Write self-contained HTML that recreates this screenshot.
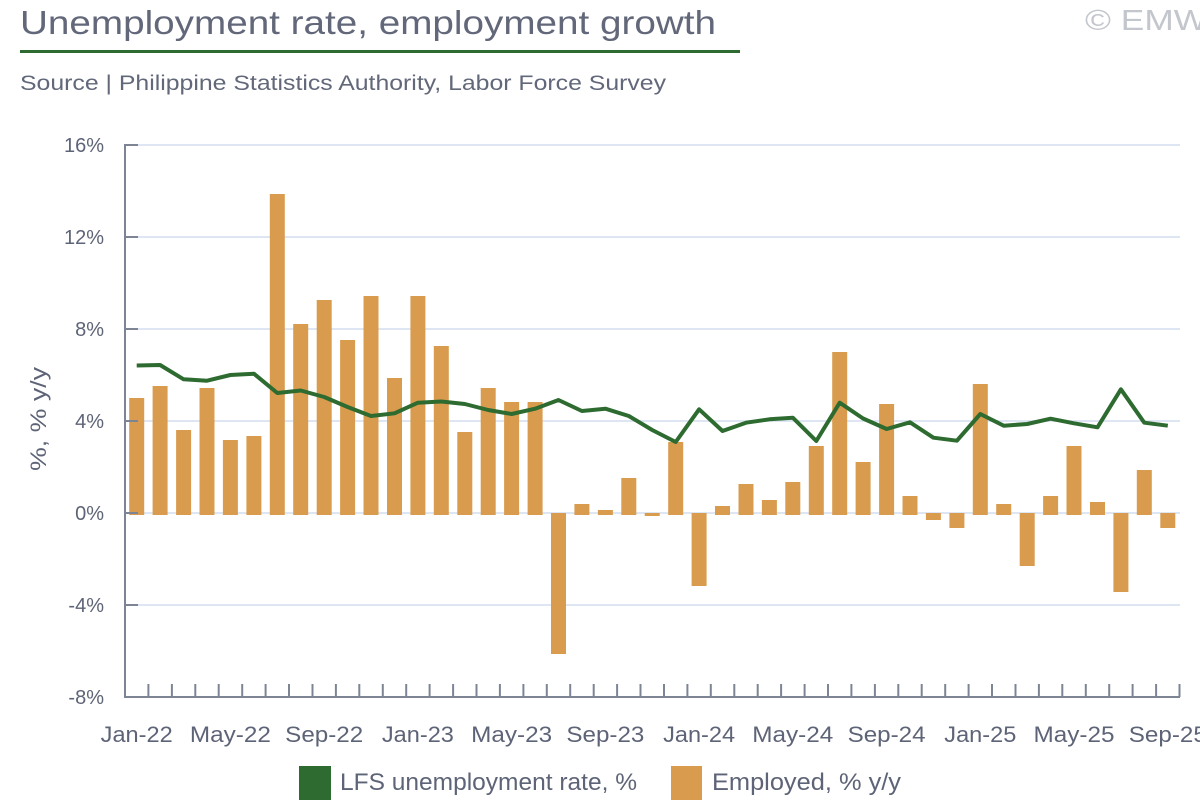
<!DOCTYPE html>
<html>
<head>
<meta charset="utf-8">
<style>
html,body{margin:0;padding:0;background:#fff;}
body{width:1200px;height:800px;overflow:hidden;}
svg{display:block;}
text{font-family:"Liberation Sans",sans-serif;}
</style>
</head>
<body>
<svg width="1200" height="800" viewBox="0 0 1200 800" xmlns="http://www.w3.org/2000/svg">
<text x="20" y="34" font-size="33" fill="#62687a" textLength="696" lengthAdjust="spacingAndGlyphs">Unemployment rate, employment growth</text>
<rect x="20" y="50" width="720" height="3" fill="#2e6b30"/>
<text x="20" y="90" font-size="21" fill="#62687a" textLength="646" lengthAdjust="spacingAndGlyphs">Source | Philippine Statistics Authority, Labor Force Survey</text>
<text x="1085" y="30" font-size="29" fill="#c3c6cc" textLength="122" lengthAdjust="spacingAndGlyphs">© EMW</text>
<g stroke="#dde6f2" stroke-width="2">
<line x1="138" y1="145" x2="1180" y2="145"/>
<line x1="138" y1="237" x2="1180" y2="237"/>
<line x1="138" y1="329" x2="1180" y2="329"/>
<line x1="138" y1="421" x2="1180" y2="421"/>
<line x1="138" y1="513" x2="1180" y2="513"/>
<line x1="138" y1="605" x2="1180" y2="605"/>
</g>
<g font-size="20" fill="#5e6477" text-anchor="end">
<text x="104" y="152">16%</text>
<text x="104" y="244">12%</text>
<text x="104" y="336">8%</text>
<text x="104" y="428">4%</text>
<text x="104" y="520">0%</text>
<text x="104" y="612">-4%</text>
<text x="104" y="704">-8%</text>
</g>
<text transform="translate(46,419) rotate(-90)" font-size="22" fill="#5e6477" text-anchor="middle" textLength="104" lengthAdjust="spacingAndGlyphs">%, % y/y</text>
<g fill="#d99c4f">
<rect x="129.2" y="398" width="15" height="117"/>
<rect x="152.6" y="386" width="15" height="129"/>
<rect x="176.1" y="430" width="15" height="85"/>
<rect x="199.5" y="388" width="15" height="127"/>
<rect x="222.9" y="440" width="15" height="75"/>
<rect x="246.4" y="436" width="15" height="79"/>
<rect x="269.8" y="194" width="15" height="321"/>
<rect x="293.2" y="324" width="15" height="191"/>
<rect x="316.7" y="300" width="15" height="215"/>
<rect x="340.1" y="340" width="15" height="175"/>
<rect x="363.5" y="296" width="15" height="219"/>
<rect x="387.0" y="378" width="15" height="137"/>
<rect x="410.4" y="296" width="15" height="219"/>
<rect x="433.8" y="346" width="15" height="169"/>
<rect x="457.3" y="432" width="15" height="83"/>
<rect x="480.7" y="388" width="15" height="127"/>
<rect x="504.1" y="402" width="15" height="113"/>
<rect x="527.6" y="402" width="15" height="113"/>
<rect x="551.0" y="513" width="15" height="141"/>
<rect x="574.4" y="504" width="15" height="11"/>
<rect x="597.9" y="510" width="15" height="5"/>
<rect x="621.3" y="478" width="15" height="37"/>
<rect x="644.7" y="513" width="15" height="3"/>
<rect x="668.2" y="442" width="15" height="73"/>
<rect x="691.6" y="513" width="15" height="73"/>
<rect x="715.0" y="506" width="15" height="9"/>
<rect x="738.5" y="484" width="15" height="31"/>
<rect x="761.9" y="500" width="15" height="15"/>
<rect x="785.3" y="482" width="15" height="33"/>
<rect x="808.8" y="446" width="15" height="69"/>
<rect x="832.2" y="352" width="15" height="163"/>
<rect x="855.6" y="462" width="15" height="53"/>
<rect x="879.1" y="404" width="15" height="111"/>
<rect x="902.5" y="496" width="15" height="19"/>
<rect x="925.9" y="513" width="15" height="7"/>
<rect x="949.4" y="513" width="15" height="15"/>
<rect x="972.8" y="384" width="15" height="131"/>
<rect x="996.2" y="504" width="15" height="11"/>
<rect x="1019.7" y="513" width="15" height="53"/>
<rect x="1043.1" y="496" width="15" height="19"/>
<rect x="1066.5" y="446" width="15" height="69"/>
<rect x="1090.0" y="502" width="15" height="13"/>
<rect x="1113.4" y="513" width="15" height="79"/>
<rect x="1136.8" y="470" width="15" height="45"/>
<rect x="1160.3" y="513" width="15" height="15"/>
</g>
<polyline fill="none" stroke="#2e6b30" stroke-width="4" stroke-linejoin="round" points="136.7,365.5 160.1,365 183.6,379.3 207.0,380.7 230.4,375 253.9,373.7 277.3,393 300.7,390.5 324.2,397 347.6,407 371.0,416 394.5,413.3 417.9,402.7 441.3,401.5 464.8,404 488.2,410 511.6,414 535.1,408.7 558.5,400 581.9,411 605.4,408.7 628.8,416 652.2,430 675.7,442 699.1,409.3 722.5,431 746.0,422.7 769.4,419.3 792.8,417.7 816.3,441 839.7,402.7 863.1,418.5 886.6,429 910.0,422.3 933.4,437.7 956.9,440.7 980.3,414 1003.7,425.7 1027.2,424 1050.6,418.7 1074.0,423.3 1097.5,427.3 1120.9,389.3 1144.3,422.7 1167.8,425.7"/>
<g stroke="#7d8595" stroke-width="2">
<line x1="125" y1="144" x2="125" y2="698"/>
<line x1="124" y1="697" x2="1180" y2="697"/>
<line x1="125" y1="145" x2="138" y2="145"/>
<line x1="125" y1="237" x2="138" y2="237"/>
<line x1="125" y1="329" x2="138" y2="329"/>
<line x1="125" y1="421" x2="138" y2="421"/>
<line x1="125" y1="513" x2="138" y2="513"/>
<line x1="125" y1="605" x2="138" y2="605"/>
<line x1="148.4" y1="684" x2="148.4" y2="697"/>
<line x1="171.9" y1="684" x2="171.9" y2="697"/>
<line x1="195.3" y1="684" x2="195.3" y2="697"/>
<line x1="218.7" y1="684" x2="218.7" y2="697"/>
<line x1="242.2" y1="684" x2="242.2" y2="697"/>
<line x1="265.6" y1="684" x2="265.6" y2="697"/>
<line x1="289.0" y1="684" x2="289.0" y2="697"/>
<line x1="312.5" y1="684" x2="312.5" y2="697"/>
<line x1="335.9" y1="684" x2="335.9" y2="697"/>
<line x1="359.3" y1="684" x2="359.3" y2="697"/>
<line x1="382.8" y1="684" x2="382.8" y2="697"/>
<line x1="406.2" y1="684" x2="406.2" y2="697"/>
<line x1="429.6" y1="684" x2="429.6" y2="697"/>
<line x1="453.1" y1="684" x2="453.1" y2="697"/>
<line x1="476.5" y1="684" x2="476.5" y2="697"/>
<line x1="499.9" y1="684" x2="499.9" y2="697"/>
<line x1="523.4" y1="684" x2="523.4" y2="697"/>
<line x1="546.8" y1="684" x2="546.8" y2="697"/>
<line x1="570.2" y1="684" x2="570.2" y2="697"/>
<line x1="593.7" y1="684" x2="593.7" y2="697"/>
<line x1="617.1" y1="684" x2="617.1" y2="697"/>
<line x1="640.5" y1="684" x2="640.5" y2="697"/>
<line x1="664.0" y1="684" x2="664.0" y2="697"/>
<line x1="687.4" y1="684" x2="687.4" y2="697"/>
<line x1="710.8" y1="684" x2="710.8" y2="697"/>
<line x1="734.3" y1="684" x2="734.3" y2="697"/>
<line x1="757.7" y1="684" x2="757.7" y2="697"/>
<line x1="781.1" y1="684" x2="781.1" y2="697"/>
<line x1="804.6" y1="684" x2="804.6" y2="697"/>
<line x1="828.0" y1="684" x2="828.0" y2="697"/>
<line x1="851.4" y1="684" x2="851.4" y2="697"/>
<line x1="874.9" y1="684" x2="874.9" y2="697"/>
<line x1="898.3" y1="684" x2="898.3" y2="697"/>
<line x1="921.7" y1="684" x2="921.7" y2="697"/>
<line x1="945.2" y1="684" x2="945.2" y2="697"/>
<line x1="968.6" y1="684" x2="968.6" y2="697"/>
<line x1="992.0" y1="684" x2="992.0" y2="697"/>
<line x1="1015.5" y1="684" x2="1015.5" y2="697"/>
<line x1="1038.9" y1="684" x2="1038.9" y2="697"/>
<line x1="1062.3" y1="684" x2="1062.3" y2="697"/>
<line x1="1085.8" y1="684" x2="1085.8" y2="697"/>
<line x1="1109.2" y1="684" x2="1109.2" y2="697"/>
<line x1="1132.6" y1="684" x2="1132.6" y2="697"/>
<line x1="1156.1" y1="684" x2="1156.1" y2="697"/>
<line x1="1179.5" y1="684" x2="1179.5" y2="697"/>
</g>
<g font-size="22" fill="#5e6477" text-anchor="middle">
<text x="136.7" y="742" textLength="72" lengthAdjust="spacingAndGlyphs">Jan-22</text>
<text x="230.4" y="742" textLength="81" lengthAdjust="spacingAndGlyphs">May-22</text>
<text x="324.2" y="742" textLength="78" lengthAdjust="spacingAndGlyphs">Sep-22</text>
<text x="417.9" y="742" textLength="72" lengthAdjust="spacingAndGlyphs">Jan-23</text>
<text x="511.6" y="742" textLength="81" lengthAdjust="spacingAndGlyphs">May-23</text>
<text x="605.4" y="742" textLength="78" lengthAdjust="spacingAndGlyphs">Sep-23</text>
<text x="699.1" y="742" textLength="72" lengthAdjust="spacingAndGlyphs">Jan-24</text>
<text x="792.8" y="742" textLength="81" lengthAdjust="spacingAndGlyphs">May-24</text>
<text x="886.6" y="742" textLength="78" lengthAdjust="spacingAndGlyphs">Sep-24</text>
<text x="980.3" y="742" textLength="72" lengthAdjust="spacingAndGlyphs">Jan-25</text>
<text x="1074.0" y="742" textLength="81" lengthAdjust="spacingAndGlyphs">May-25</text>
<text x="1167.8" y="742" textLength="78" lengthAdjust="spacingAndGlyphs">Sep-25</text>
</g>
<rect x="299" y="766" width="32" height="34" fill="#2e6b30"/>
<text x="340" y="790" font-size="24" fill="#5e6477" textLength="297" lengthAdjust="spacingAndGlyphs">LFS unemployment rate, %</text>
<rect x="671" y="766" width="31" height="34" fill="#d99c4f"/>
<text x="712" y="790" font-size="24" fill="#5e6477" textLength="189" lengthAdjust="spacingAndGlyphs">Employed, % y/y</text>
</svg>
</body>
</html>
